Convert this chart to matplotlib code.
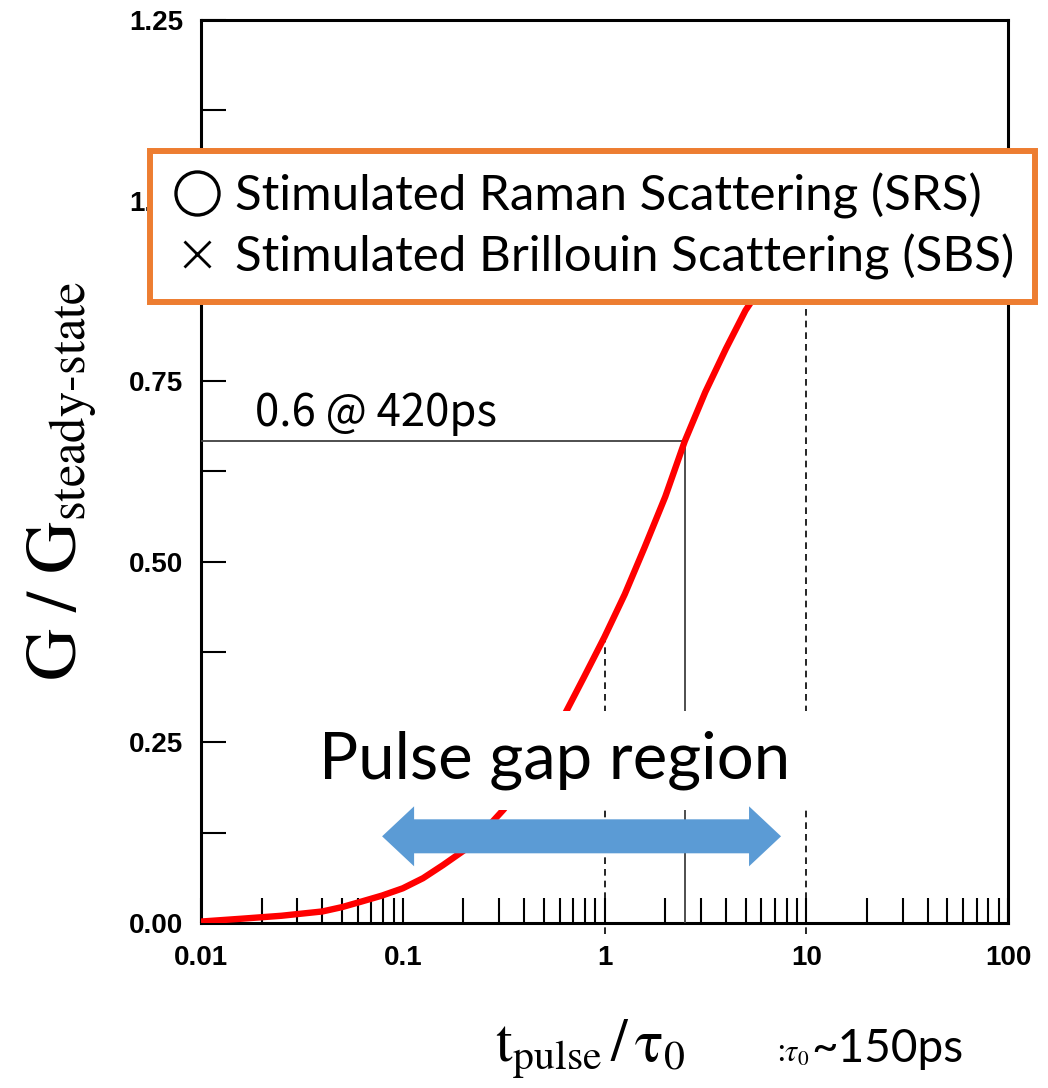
# < imports >----------------------------------------------------------------------------------

import numpy as np
import matplotlib
matplotlib.use("Agg")
import matplotlib.pyplot as plt
from matplotlib.lines import Line2D
from matplotlib.patches import Polygon
from matplotlib.ticker import FixedLocator, FixedFormatter, LogLocator, NullFormatter

# < data >-------------------------------------------------------------------------------------

# pulse duration normalised to the phonon lifetime (t_pulse / tau_0)
T_RATIO = [0.01, 0.016, 0.025, 0.04, 0.05, 0.063, 0.079, 0.1, 0.126, 0.158, 0.2, 0.25,
           0.316, 0.4, 0.5, 0.63, 0.79, 1.0, 1.26, 1.58, 2.0, 2.5, 3.16, 4.0, 5.0, 6.3,
           7.9, 10.0, 15.8, 31.6, 100.0]

# transient gain relative to the steady-state gain
GAIN = [0.002, 0.006, 0.010, 0.016, 0.022, 0.030, 0.038, 0.048, 0.062, 0.080, 0.100, 0.126,
        0.157, 0.195, 0.238, 0.287, 0.340, 0.396, 0.455, 0.520, 0.590, 0.667, 0.735, 0.795,
        0.848, 0.890, 0.925, 0.952, 0.980, 0.995, 1.0]

# axis ticks
X_TICKS = [0.01, 0.1, 1, 10, 100]
X_TICK_LABELS = ["0.01", "0.1", "1", "10", "100"]
Y_TICKS = [0.0, 0.25, 0.5, 0.75, 1.0, 1.25]
Y_TICK_LABELS = ["0.00", "0.25", "0.50", "0.75", "1.00", "1.25"]

# dashed markers at t = tau_0 and t = 10 tau_0
GAP_MARKS = [1.0, 10.0]
# extent of the pulse gap arrow
GAP_SPAN = [0.079, 7.5]
GAP_Y = 0.12

# operating point
OP_X = 2.5
OP_Y = 0.667

LEGEND_LABELS = ["Stimulated Raman Scattering (SRS)",
                 "Stimulated Brillouin Scattering (SBS)"]

# < constants >--------------------------------------------------------------------------------

W_PX, H_PX = 1048, 1088
DPI = 100

RED = "#ff0000"
BLUE = "#5b9bd5"
ORANGE = "#ed7d31"
GREY = "#404040"

SANS = ["Lato", "DejaVu Sans"]
TICK_FONT = "Liberation Sans"

plt.rcParams["mathtext.fontset"] = "stix"


# ---------------------------------------------------------------------------------------------
def double_arrow(ax, x0, x1, y, shaft=17, head_w=30, head_l=32):
    """
    fat two-headed arrow, sizes in pixels
    """
    (px0, py), (px1, _) = ax.transData.transform([(x0, y), (x1, y)])
    verts = [(px0, py),
             (px0 + head_l, py + head_w), (px0 + head_l, py + shaft),
             (px1 - head_l, py + shaft), (px1 - head_l, py + head_w),
             (px1, py),
             (px1 - head_l, py - head_w), (px1 - head_l, py - shaft),
             (px0 + head_l, py - shaft), (px0 + head_l, py - head_w)]
    verts = ax.transAxes.inverted().transform(verts)
    ax.add_patch(Polygon(verts, closed=True, transform=ax.transAxes,
                         fc=BLUE, ec="none", zorder=6))


# ---------------------------------------------------------------------------------------------
def setup_axes(ax):
    """
    log x axis, inward ticks, bold tick labels
    """
    ax.set_xscale("log")
    ax.set_xlim(0.01, 100)
    ax.set_ylim(0, 1.25)

    ax.xaxis.set_major_locator(FixedLocator(X_TICKS))
    ax.xaxis.set_major_formatter(FixedFormatter(X_TICK_LABELS))
    ax.xaxis.set_minor_locator(LogLocator(base=10, subs=np.arange(2, 10)))
    ax.xaxis.set_minor_formatter(NullFormatter())

    ax.yaxis.set_major_locator(FixedLocator(Y_TICKS))
    ax.yaxis.set_major_formatter(FixedFormatter(Y_TICK_LABELS))
    ax.yaxis.set_minor_locator(FixedLocator(np.arange(0.125, 1.25, 0.25)))

    ax.tick_params(which="both", direction="in", length=18, width=1.5,
                   top=False, right=False, colors="black")
    ax.tick_params(axis="x", pad=16)
    ax.tick_params(axis="y", pad=13)
    for lbl in ax.get_xticklabels() + ax.get_yticklabels():
        lbl.set_fontfamily(TICK_FONT)
        lbl.set_fontweight("bold")
        lbl.set_fontsize(20)

    for sp in ax.spines.values():
        sp.set_linewidth(2.2)


# ---------------------------------------------------------------------------------------------
def main():
    fig = plt.figure(figsize=(W_PX / DPI, H_PX / DPI), dpi=DPI)
    ax = fig.add_axes([201 / W_PX, 1 - 923 / H_PX, 807 / W_PX, 903 / H_PX])
    setup_axes(ax)

    # gain curve
    ax.plot(T_RATIO, GAIN, color=RED, lw=4.6, solid_capstyle="butt",
            solid_joinstyle="round", zorder=4)

    # dashed guides from the curve down to the axis
    logx = np.log10(T_RATIO)
    tops = np.interp(np.log10(GAP_MARKS), logx, GAIN)
    ax.vlines(GAP_MARKS, -0.015, tops, colors="black", linestyles=(0, (4, 3)),
              lw=1.2, clip_on=False, zorder=3)

    # operating point read-out
    ax.hlines(OP_Y, 0.01, OP_X * 0.98, colors=GREY, lw=1.3, zorder=3)
    ax.vlines(OP_X, 0, OP_Y, colors=GREY, lw=1.3, zorder=3)
    ax.text(0.0186, 0.688, "0.6 @ 420ps", fontsize=31.5, va="baseline",
            family=["Noto Sans CJK JP", "DejaVu Sans"], zorder=5)

    # pulse gap region
    ax.text(0.564, 0.2, "Pulse gap region", fontsize=47, ha="center", va="baseline",
            family=SANS, zorder=5,
            bbox=dict(fc="white", ec="none", pad=14))
    double_arrow(ax, GAP_SPAN[0], GAP_SPAN[1], GAP_Y)

    # legend
    handles = [Line2D([], [], ls="none", marker="o", ms=31, mfc="none", mec="black", mew=2.4),
               Line2D([], [], ls="none", marker="x", ms=19, mec="black", mew=2.0)]
    leg = ax.legend(handles, LEGEND_LABELS, loc="upper left",
                    bbox_to_anchor=(-51 / 807, 1 - 131 / 903, 885 / 807, 0),
                    mode="expand", borderaxespad=0, fancybox=False, framealpha=1,
                    edgecolor=ORANGE, prop=dict(family=SANS, size=35.5),
                    borderpad=0.44, handlelength=1.04, handletextpad=0.25,
                    labelspacing=0.3)
    leg.get_frame().set_linewidth(4.3)
    leg.set_zorder(10)

    # axis titles
    fig.text(62 / W_PX, 1 - 481 / H_PX, r"$\mathrm{G\ /\ G_{steady‐state}}$",
             rotation=90, ha="center", va="center", fontsize=52)
    fig.text(495 / W_PX, 1 - 1062 / H_PX, r"$\mathrm{t_{pulse}\,/\,τ_{0}}$",
             ha="left", va="baseline", fontsize=43)
    fig.text(777 / W_PX, 1 - 1062 / H_PX, r":$τ_0$",
             ha="left", va="baseline", fontsize=22, family=SANS)
    fig.text(811 / W_PX, 1 - 1062 / H_PX, "~150ps",
             ha="left", va="baseline", fontsize=33, family=SANS)

    fig.savefig("out.png", dpi=DPI)


if __name__ == "__main__":
    main()
